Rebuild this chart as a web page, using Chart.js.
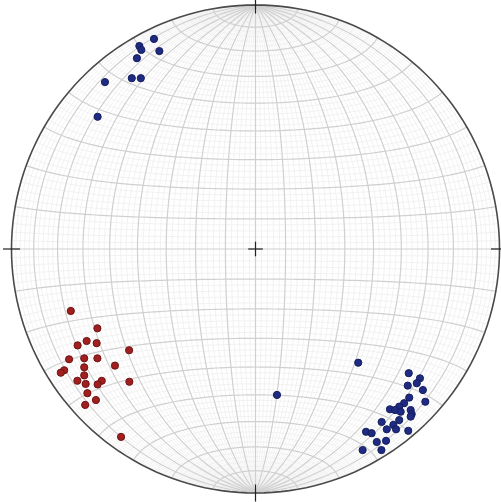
<!DOCTYPE html>
<html lang="en">

<head>
    <title>Stereonet</title>
    <meta charset="utf-8" />
    <script src="https://cdn.jsdelivr.net/npm/chart.js"></script>
    <style>
        html, body { margin: 0; padding: 0; background: #fff; }
        canvas { display: block; }
    </style>
</head>

<body>
    <canvas id="net" width="501" height="502"></canvas>

    <script>
        // projected positions on the equal-area net (primitive circle radius = 1)
        const redX = [-0.757, -0.648, -0.692, -0.729, -0.651, -0.518, -0.764, -0.702, -0.648, -0.576, -0.784, -0.798,
            -0.702, -0.702, -0.730, -0.696, -0.630, -0.647, -0.517, -0.689, -0.654, -0.698, -0.551];
        const redY = [-0.254, -0.325, -0.377, -0.395, -0.386, -0.415, -0.452, -0.448, -0.448, -0.478, -0.497, -0.507,
            -0.485, -0.518, -0.540, -0.553, -0.540, -0.555, -0.544, -0.591, -0.619, -0.639, -0.770];

        const blueX = [0.421, 0.628, 0.674, 0.661, 0.624, 0.686, 0.630, 0.696, 0.609, 0.589, 0.551, 0.572, 0.595, 0.636,
            0.640, 0.636, 0.589, 0.517, 0.565, 0.538, 0.576, 0.626, 0.453, 0.476, 0.535, 0.497, 0.439, 0.516, 0.088,
            -0.416, -0.476, -0.468, -0.394, -0.486, -0.507, -0.470, -0.617, -0.647];
        const blueY = [-0.466, -0.509, -0.530, -0.550, -0.560, -0.578, -0.609, -0.626, -0.632, -0.646, -0.657, -0.660,
            -0.667, -0.660, -0.677, -0.687, -0.701, -0.709, -0.721, -0.739, -0.739, -0.745, -0.749, -0.755, -0.786,
            -0.791, -0.824, -0.824, -0.598,
            0.861, 0.832, 0.816, 0.811, 0.782, 0.700, 0.700, 0.684, 0.542];

        function toPoints(xs, ys) {
            return xs.map((x, i) => ({ x: x, y: ys[i] }));
        }

        // lower hemisphere equal-area projection of a unit vector (east, north, down)
        function project(e, n, d) {
            const k = 1 / Math.sqrt(1 + d);
            return [e * k, n * k];
        }

        function strokeCurve(ctx, sx, sy, pts) {
            ctx.beginPath();
            pts.forEach((p, i) => {
                const px = sx.getPixelForValue(p[0]);
                const py = sy.getPixelForValue(p[1]);
                if (i === 0) ctx.moveTo(px, py); else ctx.lineTo(px, py);
            });
            ctx.stroke();
        }

        function greatCircle(dip) {
            const r = dip * Math.PI / 180, pts = [];
            for (let a = -90; a <= 90; a += 2) {
                const f = a * Math.PI / 180;
                pts.push(project(Math.cos(f) * Math.cos(r), Math.sin(f), Math.cos(f) * Math.sin(r)));
            }
            return pts;
        }

        function smallCircle(lat) {
            const b = lat * Math.PI / 180, pts = [];
            for (let a = 0; a <= 180; a += 2) {
                const s = a * Math.PI / 180;
                pts.push(project(Math.cos(b) * Math.cos(s), Math.sin(b), Math.cos(b) * Math.sin(s)));
            }
            return pts;
        }

        const netGrid = {
            id: 'netGrid',
            beforeDatasetsDraw(chart) {
                const ctx = chart.ctx, sx = chart.scales.x, sy = chart.scales.y;
                ctx.save();
                ctx.lineWidth = 0.7;
                ctx.strokeStyle = '#ececec';
                for (let d = 2; d < 180; d += 2) if (d % 10) strokeCurve(ctx, sx, sy, greatCircle(d));
                for (let l = -88; l <= 88; l += 2) if (l % 10) strokeCurve(ctx, sx, sy, smallCircle(l));

                ctx.lineWidth = 1.2;
                ctx.strokeStyle = '#d0d0d0';
                for (let d = 10; d < 180; d += 10) strokeCurve(ctx, sx, sy, greatCircle(d));
                for (let l = -80; l <= 80; l += 10) strokeCurve(ctx, sx, sy, smallCircle(l));

                // primitive circle
                const outline = [];
                for (let a = 0; a <= 360; a += 2) {
                    const t = a * Math.PI / 180;
                    outline.push([Math.cos(t), Math.sin(t)]);
                }
                ctx.lineWidth = 1.6;
                ctx.strokeStyle = '#4a4a4a';
                strokeCurve(ctx, sx, sy, outline);

                // ticks at N, S, E, W and the centre cross
                ctx.lineWidth = 1.2;
                ctx.strokeStyle = '#222';
                const t = 0.035, c = 0.03;
                strokeCurve(ctx, sx, sy, [[0, 1 + t], [0, 1 - t]]);
                strokeCurve(ctx, sx, sy, [[0, -1 - t], [0, -1 + t]]);
                strokeCurve(ctx, sx, sy, [[-1 - t, 0], [-1 + t, 0]]);
                strokeCurve(ctx, sx, sy, [[1 - t, 0], [1 + t, 0]]);
                strokeCurve(ctx, sx, sy, [[-c, 0], [c, 0]]);
                strokeCurve(ctx, sx, sy, [[0, -c], [0, c]]);
                ctx.restore();
            }
        };

        new Chart(document.getElementById('net').getContext('2d'), {
            type: 'scatter',
            data: {
                datasets: [{
                    data: toPoints(redX, redY),
                    backgroundColor: '#a11f1f',
                    borderColor: '#6e1212',
                    borderWidth: 1,
                    pointRadius: 3.6
                }, {
                    data: toPoints(blueX, blueY),
                    backgroundColor: '#1f2b82',
                    borderColor: '#141d5c',
                    borderWidth: 1,
                    pointRadius: 3.6
                }]
            },
            options: {
                responsive: false,
                animation: false,
                events: [],
                layout: { padding: 0, autoPadding: false },
                plugins: { legend: { display: false }, tooltip: { enabled: false } },
                scales: {
                    x: { type: 'linear', min: -1.0471, max: 1.0061, display: false },
                    y: { type: 'linear', min: -1.0369, max: 1.0205, display: false }
                }
            },
            plugins: [netGrid]
        });
    </script>
</body>

</html>
